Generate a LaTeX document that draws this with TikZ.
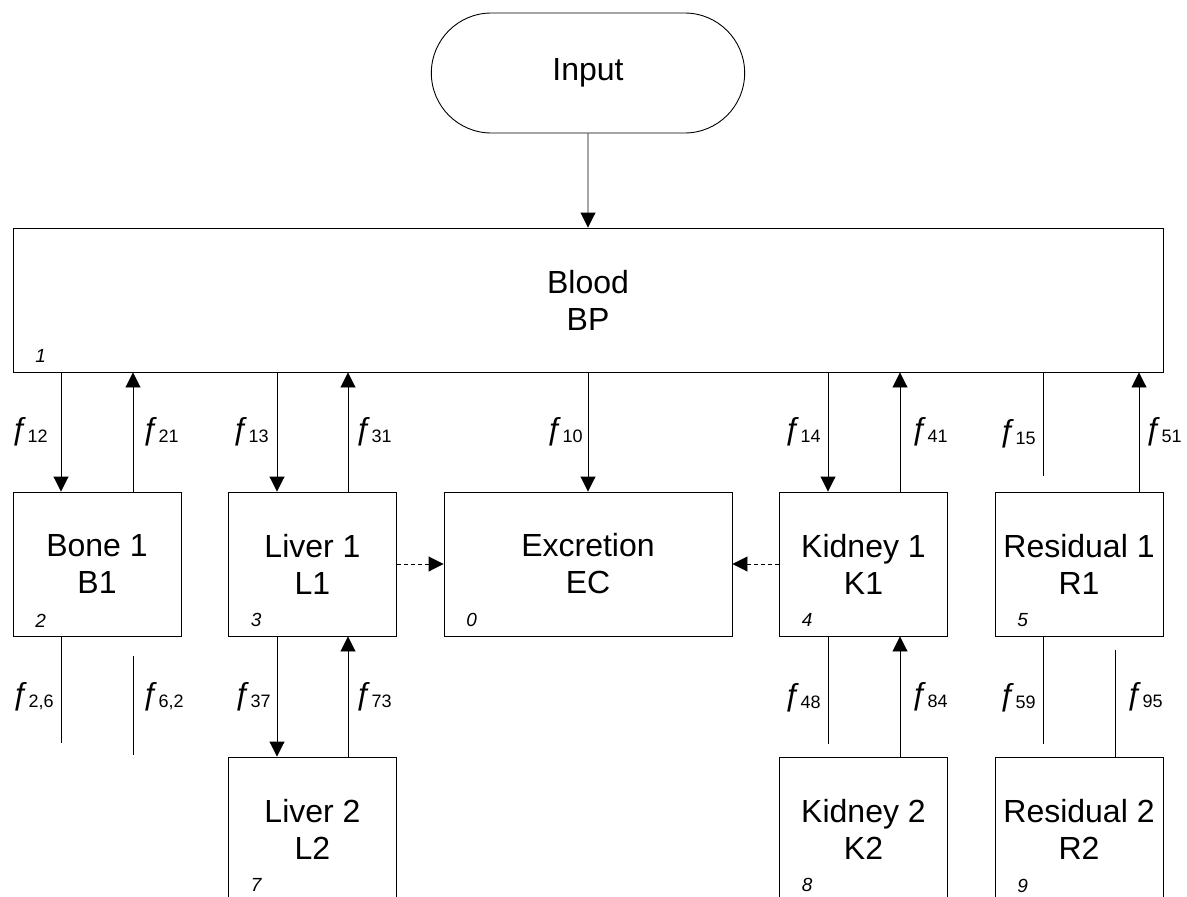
\documentclass[tikz,border=0pt]{standalone}
\usepackage{fontspec}
\setmainfont{Liberation Sans}
\usetikzlibrary{arrows.meta,shapes.misc}
\tikzset{>={Triangle[length=15pt,width=15pt]}}
\tikzstyle{compartment}=[rectangle, draw, line width=0.9pt, minimum width=168pt, minimum height=144pt, align=center, font=\fontsize{32}{37}\selectfont]
\tikzstyle{idx}=[inner sep=0pt, font=\fontsize{19}{19}\selectfont\itshape]
\tikzstyle{ratelbl}=[inner sep=0pt]
\newcommand{\compartment}{\node[compartment]}
\newcommand{\flowrate}[1]{{\fontsize{31}{31}\selectfont ƒ}\hspace{-1pt}\raisebox{-3pt}{\fontsize{18}{18}\selectfont #1}}

\begin{document}
\begin{tikzpicture}[x=1pt, y=-1pt, line width=0.9pt]
\useasboundingbox (0,0) rectangle (1187,897);
\clip (0,0) rectangle (1187,897);
\node[rounded rectangle, draw, minimum width=320pt, minimum height=120pt, font=\fontsize{32}{37}\selectfont] (input) at (588,73) {Input};
\compartment[minimum width=1150pt] (blood) at (588,300) {Blood\\BP};
\compartment (bone) at (97,564) {Bone 1\\B1};
\compartment (liver1) at (312.5,564) {Liver 1\\L1};
\compartment[minimum width=288pt] (excr) at (588,564) {Excretion\\EC};
\compartment (kidney1) at (863.5,564) {Kidney 1\\K1};
\compartment (resid1) at (1079,564) {Residual 1\\R1};
\compartment (liver2) at (312.5,829) {Liver 2\\L2};
\compartment (kidney2) at (863.5,829) {Kidney 2\\K2};
\compartment (resid2) at (1079,829) {Residual 2\\R2};
\foreach \b/\n in {blood/1, bone/2, liver1/3, excr/0, kidney1/4, resid1/5, liver2/7, kidney2/8, resid2/9}
  \node[idx] at ([xshift=28pt,yshift=16pt]\b.south west) {\n};
% loose ends
\coordinate (r1top) at (1043,476);
\coordinate (b1dn) at (61,743);
\coordinate (b1top) at (133,656);
\coordinate (b1bot) at (133,755);
\coordinate (k1dn) at (828,744);
\coordinate (r1dn) at (1043,744);
\coordinate (r2top) at (1115,650);
\draw [->] (input) -- (blood);
\draw [->] ([xshift=-36pt]bone.north |- blood.south) -- ([xshift=-36pt]bone.north) node[ratelbl, midway, anchor=west, xshift=-50pt] {\flowrate{12}};
\draw [->] ([xshift=36pt]bone.north) -- ([xshift=36pt]bone.north |- blood.south) node[ratelbl, midway, anchor=west, xshift=9pt] {\flowrate{21}};
\draw [->] ([xshift=-35.5pt]liver1.north |- blood.south) -- ([xshift=-35.5pt]liver1.north) node[ratelbl, midway, anchor=west, xshift=-45pt] {\flowrate{13}};
\draw [->] ([xshift=35.5pt]liver1.north) -- ([xshift=35.5pt]liver1.north |- blood.south) node[ratelbl, midway, anchor=west, xshift=7pt] {\flowrate{31}};
\draw [->] (blood) -- (excr) node[ratelbl, midway, anchor=east, xshift=-5pt] {\flowrate{10}};
\draw [->] ([xshift=-35.5pt]kidney1.north |- blood.south) -- ([xshift=-35.5pt]kidney1.north) node[ratelbl, midway, anchor=west, xshift=-44pt] {\flowrate{14}};
\draw [->] ([xshift=36.5pt]kidney1.north) -- ([xshift=36.5pt]kidney1.north |- blood.south) node[ratelbl, midway, anchor=west, xshift=11pt] {\flowrate{41}};
\draw (r1top |- blood.south) -- (r1top) node[ratelbl, pos=0.59, anchor=west, xshift=-44pt] {\flowrate{15}};
\draw [->] ([xshift=60pt]resid1.north) -- ([xshift=60pt]resid1.north |- blood.south) node[ratelbl, midway, anchor=west, xshift=6pt] {\flowrate{51}};
\draw [->,dashed,dash pattern=on 4pt off 3pt] (liver1) -- (excr);
\draw [->,dashed,dash pattern=on 4pt off 3pt] (kidney1) -- (excr);
% second row
\draw (b1dn |- bone.south) -- (b1dn) node[ratelbl, pos=0.57, anchor=west, xshift=-49pt] {\flowrate{2,6}};
\draw (b1top) -- (b1bot) node[ratelbl, pos=0.41, anchor=west, xshift=9pt] {\flowrate{6,2}};
\draw [->] ([xshift=-35.5pt]liver1.south) -- ([xshift=-35.5pt]liver2.north) node[ratelbl, midway, anchor=west, xshift=-43pt] {\flowrate{37}};
\draw [->] ([xshift=35.5pt]liver2.north) -- ([xshift=35.5pt]liver1.south) node[ratelbl, midway, anchor=west, xshift=7pt] {\flowrate{73}};
\draw (k1dn |- kidney1.south) -- (k1dn) node[ratelbl, pos=0.57, anchor=west, xshift=-44pt] {\flowrate{48}};
\draw [->] ([xshift=36.5pt]kidney2.north) -- ([xshift=36.5pt]kidney1.south) node[ratelbl, midway, anchor=west, xshift=11pt] {\flowrate{84}};
\draw (r1dn |- resid1.south) -- (r1dn) node[ratelbl, pos=0.57, anchor=west, xshift=-44pt] {\flowrate{59}};
\draw (r2top) -- (r2top |- resid2.north) node[ratelbl, pos=0.44, anchor=west, xshift=11pt] {\flowrate{95}};
\end{tikzpicture}
\end{document}
